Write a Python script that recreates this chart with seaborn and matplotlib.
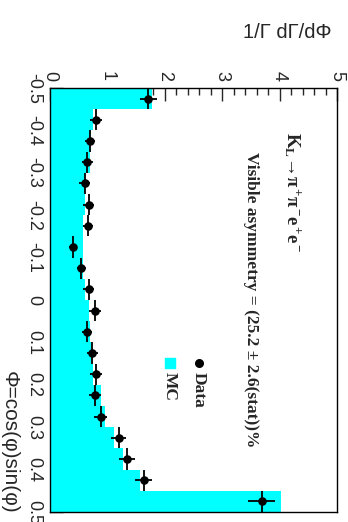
import numpy as np
import matplotlib
matplotlib.use("Agg")
import matplotlib.pyplot as plt
from matplotlib.ticker import MultipleLocator
import seaborn as sns

# Phi = cos(phi) sin(phi), 20 bins from -0.5 to 0.5
phi_edges = [-0.5, -0.45, -0.4, -0.35, -0.3, -0.25, -0.2, -0.15, -0.1, -0.05,
             0.0, 0.05, 0.1, 0.15, 0.2, 0.25, 0.3, 0.35, 0.4, 0.45, 0.5]
phi_centers = [-0.475, -0.425, -0.375, -0.325, -0.275, -0.225, -0.175, -0.125,
               -0.075, -0.025, 0.025, 0.075, 0.125, 0.175, 0.225, 0.275, 0.325,
               0.375, 0.425, 0.475]

# Monte Carlo expectation (normalised)
mc_vals = [1.78, 0.76, 0.73, 0.70, 0.62, 0.61, 0.59, 0.58, 0.58, 0.61,
           0.68, 0.70, 0.73, 0.76, 0.89, 0.97, 1.12, 1.27, 1.57, 4.03]

# Data (normalised) with statistical errors
data_vals = [1.72, 0.81, 0.70, 0.66, 0.61, 0.68, 0.675, 0.41, 0.55, 0.68,
             0.79, 0.65, 0.745, 0.81, 0.79, 0.89, 1.20, 1.34, 1.64, 3.69]
data_errs = [0.15, 0.10, 0.09, 0.09, 0.09, 0.09, 0.09, 0.07, 0.08, 0.09,
             0.10, 0.09, 0.10, 0.10, 0.10, 0.11, 0.13, 0.14, 0.15, 0.23]
bin_half = 0.025

value_ticks = [0, 1, 2, 3, 4, 5]
phi_ticks = [-0.5, -0.4, -0.3, -0.2, -0.1, 0.0, 0.1, 0.2, 0.3, 0.4, 0.5]
phi_ticklabels = ["-0.5", "-0.4", "-0.3", "-0.2", "-0.1", "0", "0.1", "0.2",
                  "0.3", "0.4", "0.5"]

sns.set_style("ticks")
plt.rcParams["font.family"] = ["Liberation Sans", "DejaVu Sans"]
plt.rcParams["mathtext.fontset"] = "custom"
plt.rcParams["mathtext.rm"] = "Liberation Serif"
plt.rcParams["mathtext.bf"] = "Liberation Serif:bold"
plt.rcParams["mathtext.it"] = "Liberation Serif:italic"

fig = plt.figure(figsize=(3.48, 5.22), dpi=100)
ax = fig.add_axes([49.5 / 348, 10 / 522, 287.5 / 348, 424 / 522])

# MC histogram, drawn sideways
sns.histplot(y=phi_centers, weights=mc_vals, bins=phi_edges, element="step",
             fill=True, color="#00ffff", alpha=1.0, linewidth=0, ax=ax)

# data points with error bars
ax.errorbar(data_vals, phi_centers, xerr=data_errs, yerr=bin_half, fmt="none",
            ecolor="black", elinewidth=1.3, capsize=0, zorder=3)
sns.scatterplot(x=data_vals, y=phi_centers, color="black", s=38,
                edgecolor="black", linewidth=0, ax=ax, zorder=4)

ax.set_xlim(0, 5)
ax.set_ylim(0.5, -0.5)
ax.set_xlabel("")
ax.set_ylabel("")

for sp in ax.spines.values():
    sp.set_visible(True)
    sp.set_linewidth(1.0)
    sp.set_color("black")

ax.xaxis.tick_top()
ax.set_xticks(value_ticks)
ax.set_xticklabels([str(v) for v in value_ticks])
ax.xaxis.set_minor_locator(MultipleLocator(0.2))
ax.set_yticks(phi_ticks)
ax.set_yticklabels(phi_ticklabels)
ax.yaxis.set_minor_locator(MultipleLocator(0.02))

ax.tick_params(axis="x", which="both", direction="in", top=True, bottom=False,
               labeltop=True, labelbottom=False, labelrotation=270,
               labelsize=13, pad=5)
ax.tick_params(axis="y", which="both", direction="in", left=True, right=False,
               labelrotation=270, labelsize=13, pad=5)
ax.tick_params(which="major", length=9, width=1.0)
ax.tick_params(which="minor", length=5, width=1.0)
for lab in ax.get_yticklabels():
    lab.set_va("center")

# axis titles
fig.text(243 / 348, (522 - 38) / 522, "1/Γ dΓ/dΦ", ha="left", va="baseline",
         fontsize=14.5)
fig.text(9 / 348, (522 - 514) / 522, "Φ=cos(φ)sin(φ)", ha="center",
         va="bottom", rotation=270, fontsize=15)

# annotations
ax.text(0.845, 0.896,
        r"$\mathbf{K_L\!\rightarrow\!\pi^+\!\pi^-\!e^+\!e^-}$",
        transform=ax.transAxes, rotation=270, ha="center", va="top",
        fontsize=13.5)
ax.text(0.70, 0.849, "Visible asymmetry = (25.2 ± 2.6(stat))%",
        transform=ax.transAxes, rotation=270, ha="center", va="top",
        fontsize=12.5, fontweight="bold", family="Liberation Serif")

# legend
ax.scatter([0.520], [0.351], transform=ax.transAxes, s=30, color="black",
           zorder=5)
ax.text(0.520, 0.330, "Data", transform=ax.transAxes, rotation=270,
        ha="center", va="top", fontsize=12.5, fontweight="bold",
        family="Liberation Serif")
ax.scatter([0.419], [0.351], transform=ax.transAxes, s=45, marker="s",
           color="#00ffff", zorder=5)
ax.text(0.419, 0.330, "MC", transform=ax.transAxes, rotation=270,
        ha="center", va="top", fontsize=12.5, fontweight="bold",
        family="Liberation Serif")

fig.savefig("out.png", dpi=100, facecolor="white")
